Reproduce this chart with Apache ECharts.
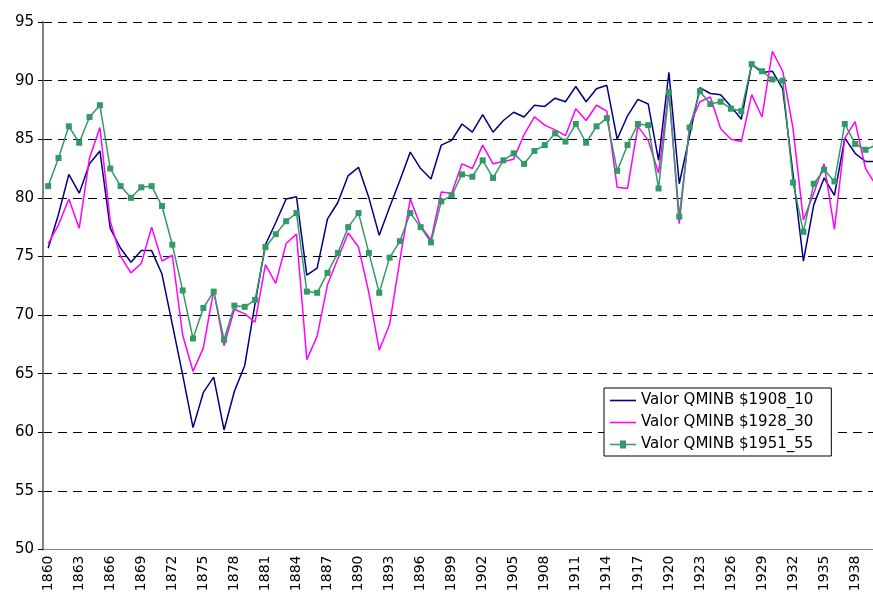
<!DOCTYPE html>
<html>
<head>
<meta charset="utf-8">
<script src="https://cdn.jsdelivr.net/npm/echarts@6/dist/echarts.min.js"></script>
<style>html,body{margin:0;padding:0;background:#fff;overflow:hidden;width:873px;height:597px;}#chart{width:884px;height:597px;}</style>
</head>
<body>
<div id="chart"></div>
<script>
var years = ['1860','1861','1862','1863','1864','1865','1866','1867','1868','1869',
'1870','1871','1872','1873','1874','1875','1876','1877','1878','1879',
'1880','1881','1882','1883','1884','1885','1886','1887','1888','1889',
'1890','1891','1892','1893','1894','1895','1896','1897','1898','1899',
'1900','1901','1902','1903','1904','1905','1906','1907','1908','1909',
'1910','1911','1912','1913','1914','1915','1916','1917','1918','1919',
'1920','1921','1922','1923','1924','1925','1926','1927','1928','1929',
'1930','1931','1932','1933','1934','1935','1936','1937','1938','1939','1940'];

var seriesNames = ['Valor QMINB $1908_10','Valor QMINB $1928_30','Valor QMINB $1951_55'];

var valor1908 = [75.7,78.6,82.0,80.4,82.9,84.0,77.4,75.7,74.5,75.5,
75.5,73.5,69.2,64.9,60.4,63.4,64.7,60.2,63.5,65.7,
71.0,76.0,77.9,79.9,80.1,73.4,74.0,78.2,79.6,81.9,
82.6,80.0,76.8,79.2,81.5,83.9,82.5,81.6,84.5,84.9,
86.3,85.6,87.1,85.6,86.6,87.3,86.9,87.9,87.8,88.5,
88.2,89.5,88.2,89.3,89.6,85.0,87.0,88.4,88.0,83.2,
90.7,81.2,85.3,89.4,88.9,88.8,87.8,86.7,91.4,90.7,
90.8,89.3,82.0,74.6,79.4,81.7,80.2,85.1,83.8,83.1,83.1];

var valor1928 = [76.1,77.7,79.9,77.4,83.4,86.0,78.0,75.0,73.6,74.4,
77.5,74.6,75.1,68.3,65.2,67.2,72.1,67.4,70.5,70.1,
69.4,74.3,72.7,76.1,76.9,66.2,68.2,72.6,74.8,77.0,
75.8,71.9,67.0,69.2,74.7,79.9,77.6,76.4,80.5,80.4,
82.9,82.5,84.5,82.9,83.1,83.3,85.4,86.9,86.2,85.8,
85.3,87.6,86.6,87.9,87.4,80.9,80.8,86.1,84.9,82.1,
89.3,77.8,86.2,88.2,88.6,85.9,85.0,84.8,88.8,86.9,
92.5,90.8,85.9,78.1,80.4,82.9,77.3,85.1,86.5,82.5,81.1];

var valor1951 = [81.0,83.4,86.1,84.7,86.9,87.9,82.5,81.0,80.0,80.9,
81.0,79.3,76.0,72.1,68.0,70.6,72.0,67.9,70.8,70.7,
71.3,75.8,76.9,78.0,78.7,72.0,71.9,73.6,75.3,77.5,
78.7,75.3,71.9,74.9,76.3,78.7,77.5,76.2,79.7,80.2,
82.0,81.8,83.2,81.7,83.2,83.8,82.9,84.0,84.5,85.5,
84.8,86.3,84.7,86.1,86.8,82.3,84.5,86.3,86.2,80.8,
89.0,78.4,86.0,89.1,88.0,88.2,87.6,87.4,91.4,90.8,
90.1,90.0,81.3,77.1,81.2,82.4,81.4,86.3,84.6,84.1,84.5];

var chart = echarts.init(document.getElementById('chart'), null, {renderer: 'canvas'});
var font = 'DejaVu Sans, Verdana, sans-serif';
var lineIcon = 'path://M0,0 H26 V1.6 H0 Z';
var markIcon = 'path://M0,3.2 H10 V0 H16 V3.2 H26 V4.8 H16 V8 H10 V4.8 H0 Z';
chart.setOption({
  animation: false,
  backgroundColor: '#ffffff',
  grid: {left: 43, top: 22, width: 838, height: 527.5, containLabel: false},
  legend: {
    orient: 'vertical',
    left: 604, top: 388,
    backgroundColor: '#ffffff',
    borderColor: '#000000', borderWidth: 1, borderRadius: 0,
    padding: [5, 18, 4, 6],
    itemWidth: 26, itemHeight: 13, itemGap: 7,
    textStyle: {fontFamily: font, fontSize: 15, color: '#000'},
    data: [
      {name: seriesNames[0], icon: lineIcon},
      {name: seriesNames[1], icon: lineIcon},
      {name: seriesNames[2], icon: markIcon}
    ]
  },
  xAxis: {
    type: 'category',
    data: years,
    boundaryGap: true,
    axisLine: {lineStyle: {color: '#808080', width: 1}},
    axisTick: {interval: 0, length: 5, lineStyle: {color: '#000'}},
    axisLabel: {interval: 2, rotate: 90, fontFamily: font, fontSize: 14, color: '#000', margin: 6}
  },
  yAxis: {
    type: 'value',
    min: 50, max: 95, interval: 5,
    axisLine: {show: true, lineStyle: {color: '#808080', width: 2}},
    axisTick: {show: true, length: 5, lineStyle: {color: '#000'}},
    axisLabel: {fontFamily: font, fontSize: 15, color: '#000', margin: 9},
    splitLine: {show: true, lineStyle: {color: '#000', type: [9, 6], width: 1}}
  },
  series: [
    {name: seriesNames[0], type: 'line', data: valor1908, symbol: 'none',
     lineStyle: {color: '#000080', width: 1.5}, itemStyle: {color: '#000080'}},
    {name: seriesNames[1], type: 'line', data: valor1928, symbol: 'none',
     lineStyle: {color: '#ff00ff', width: 1.5}, itemStyle: {color: '#ff00ff'}},
    {name: seriesNames[2], type: 'line', data: valor1951, symbol: 'rect', symbolSize: 6,
     lineStyle: {color: '#339966', width: 1.5}, itemStyle: {color: '#339966'}}
  ]
});
</script>
</body>
</html>
